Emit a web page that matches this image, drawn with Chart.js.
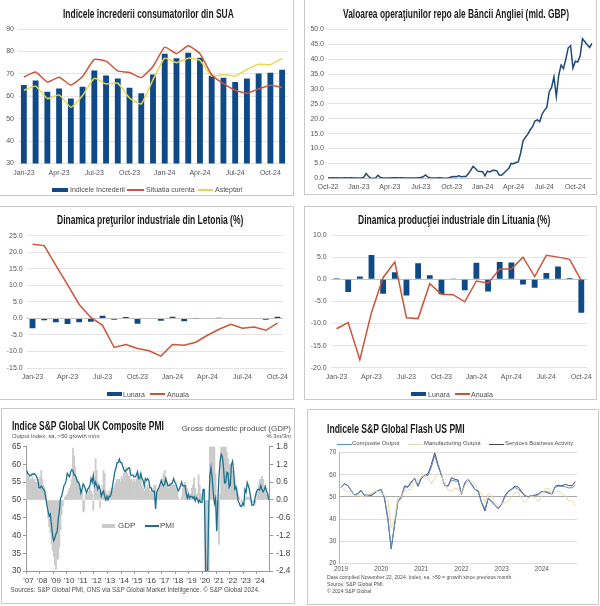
<!DOCTYPE html>
<html lang="ro">
<head>
<meta charset="utf-8">
<title>Indicatori</title>
<script src="https://cdn.jsdelivr.net/npm/chart.js@4"></script>
<style>
  html, body { margin: 0; padding: 0; background: #fff; }
  #page { position: relative; width: 600px; height: 606px; overflow: hidden; font-family: "Liberation Sans", Arial, sans-serif; }
  .panel { position: absolute; box-sizing: border-box; border: 1px solid #c9c9c9; background: #fff; }
  canvas { position: absolute; display: block; }
  .txt { position: absolute; white-space: nowrap; line-height: 1; color: #4d4d4d; }
  .title { font-weight: bold; color: #1a1a1a; transform-origin: 0 0; }
  .swatch { position: absolute; }
</style>
</head>
<body>
<div id="page"></div>
<script>
// ===== Data =====
const months = ["Jan-23","Feb-23","Mar-23","Apr-23","May-23","Jun-23","Jul-23","Aug-23","Sep-23","Oct-23","Nov-23","Dec-23",
  "Jan-24","Feb-24","Mar-24","Apr-24","May-24","Jun-24","Jul-24","Aug-24","Sep-24","Oct-24","Nov-24"];

// SUA - increderea consumatorilor
const increderea = [65,67,62,63.5,59,64.2,71.5,69.3,67.9,63.8,61.3,69.7,79,76.9,79.4,77.2,69.1,68.2,66.4,67.9,70.1,70.5,71.8];
const situatia = [68.6,70.8,66.3,68.5,65,68.8,76.4,75.7,71.3,70.6,68.3,73.3,81.9,79,82.5,79,69.6,65.6,62.7,61.3,63.3,64.9,63.9];
const asteptari = [62.7,64.5,59,60.6,55.1,60.3,68,65.5,65.8,59.2,56.6,67.4,77,75,77,76,69,69.6,69,72,74.3,74.1,76.9];

// Banca Angliei - repo (saptamanal)
const repoTicks = ["Oct-22","Jan-23","Apr-23","Jul-23","Oct-23","Jan-24","Apr-24","Jul-24","Oct-24"];
const repo = [0.2,0.1,0.2,0.1,0.2,0.1,0.1,0.2,0.1,0.2,0.2,0.1,0.1,0.1,0.1,0.3,1.6,0.7,0,0,0.1,1,0.3,0.1,0.1,0.1,0.1,0.2,0.2,0.2,0.1,0.2,0.1,0.1,0.1,0.1,0.1,0.1,0.2,0.3,0.5,1.1,0.4,0.2,0.1,0.1,0.1,0.2,0.1,0,0,0.2,0.5,0.6,0.5,0.8,0.5,0.6,0.6,1.5,2.7,4,3.3,2.4,2.3,2.2,0.8,2.4,2.1,2.6,2.7,2.5,1.1,1,1.8,2.6,3.3,5,4.9,5.3,5.5,8.5,12.5,13.8,14.8,16.2,17.3,19.2,19.6,19,21.5,22.8,23.8,29,30.5,34,27.4,34.5,38,36.8,40,43.8,44.5,37,39.3,39,41,46.8,45.8,44.8,43.9,45.3];

// Letonia - preturi industriale
const letLunara = [-3,-0.6,-1.2,-1.7,-1.2,-1,0.8,-0.4,0.4,-1.6,0,-0.7,0.5,-0.9,-0.1,0.1,0.2,0.1,-0.2,0,-0.4,0.5];
const letAnuala = [22.4,22,16,10.2,4.2,0.3,-2.1,-8.8,-7.9,-9.1,-9.8,-11.4,-7.9,-8.1,-7.2,-5.1,-3.3,-1.8,-3,-2.6,-3.6,-1.4];

// Lituania - productie industriala
const litLunara = [0.2,-2.9,0.6,5.5,-3.3,1.6,-3.7,3.6,0.9,-3.4,0.05,-2.5,3.7,-2.8,3.9,3.8,-1.2,-1.9,1.4,2.9,0.3,-7.6];
const litAnuala = [-11.2,-9.8,-18.2,-7.5,0.4,3.9,-8.7,-8.9,-1,-3.4,-3.5,-5.1,-0.4,-0.9,2.3,2.3,5,0.6,5.4,5,4.5,-0.3];

// UK composite PMI, GDP (lunar 2007 - 2024)
const ukYears = ["'07","'08","'09","'10","'11","'12","'13","'14","'15","'16","'17","'18","'19","'20","'21","'22","'23","'24"];
const ukPmi = [58.3,57.5,57.2,56.8,57,57.3,57.2,57.4,57,56.5,55.5,53.5,
  53.4,53.9,53.5,53,52.5,50.5,48.5,46.8,45.5,46,43,40,
  38.5,39.3,40.5,41,44.5,47,50.5,51,52.5,54,54.5,55.5,
  57.5,57,56.5,58,58.5,58.2,57,57,56,55,55,54,
  52,53,54.5,54,53,52,53,53.5,54,56,55,57,
  54,55,54,53,54,53,51,52,52.5,51,50,51,
  50,51,51,52,54,56,58,59,60.5,60.5,61.5,60.5,
  60.5,59.5,58.5,58,58.5,58.5,59,59,57,57,57,56.5,
  56.5,57,58,56,56,57.5,56,55.5,54,56,55.5,56,
  55.5,53.5,53.5,52.5,52.5,52.5,47.5,52,53,53.5,54.5,55.5,
  54.5,54,54.5,56,55,54,54,54.5,54.5,55,56,55,
  54.5,53.5,52.5,53,54,55,54,54,54,52,50.5,51.5,
  50.5,51,51,50.5,50.9,49.7,50.7,50.2,49.3,50,49.3,49.3,
  53,53,36,13.8,30,47.7,57,59.1,56.1,52.1,49,50.4,
  41.2,49.6,56.4,60.9,62.9,62.2,59.2,54.8,54.9,57.8,57.6,53.6,
  54.2,59.9,60.9,58.2,53.1,53.7,52.1,49.6,49.1,48.2,48.2,49,
  48.5,53,52.2,54.9,54,52.8,50.8,48.6,48.5,48.7,50.7,52.1,
  52.9,53,52.8,54.1,53,52.3,52.8,53.8,52.6,51.8,50];
const ukGdp = [1,0.9,0.8,0.7,0.7,0.8,0.7,0.7,0.6,0.6,0.7,0.6,
  0.8,1,0.7,0.5,0.4,0.2,0,-0.6,-0.9,-1.1,-1.5,-1.7,
  -1.9,-2.2,-2.35,-2,-2,-1.6,-1,-0.5,-0.2,0,0.1,0.15,
  0.2,0.3,0.4,0.5,0.7,1.75,1.5,1.1,0.8,0.7,0.5,0.4,
  0.3,0.3,-0.4,-0.35,0.15,0.2,0.2,0.3,0.4,0.3,0.2,-0.35,
  0.6,1.4,1,0.6,0.3,-0.25,0.3,0.5,1,0.9,0.3,0.2,
  0.2,0.3,0.3,0.4,0.3,0.4,0.5,0.6,0.7,0.7,0.7,0.6,
  0.8,0.7,0.9,1,1.1,0.9,0.8,0.8,0.7,0.7,0.6,0.7,
  0.6,0.7,0.9,0.9,0.8,0.7,0.5,0.4,0.3,0.5,0.4,0.5,
  0.4,0.3,0.2,0.3,0.4,0.5,0.5,0.2,0.2,0.4,0.5,0.6,
  0.7,0.9,1,0.8,0.6,0.4,0.4,0.5,0.5,0.5,0.5,0.5,
  0.4,0.3,0.1,0,0,0.1,0.4,0.5,0.6,0.5,0.4,0.3,
  0.2,0.2,0.4,0.5,0.75,0.4,0.2,0.2,0.85,0.5,0.2,0.1,
  0.1,0.2,-3,-6,-6,-3,2,5,5,3,2,0.9,
  -0.3,-1,-1.5,0.2,3,5,6,4,2,1.6,1.4,1.2,
  1.2,1.1,1,0.8,0.7,0.5,0.4,0.2,0.1,0,-0.1,-0.1,
  0,0.1,0.1,0.1,0.1,0.1,0,-0.1,-0.1,-0.1,-0.1,0,
  0.3,0.5,0.7,0.7,0.8,0.7,0.5,0.3,0.2,0.2,0.1];

// US flash PMI (lunar 2019 - 2024)
const usYears = ["2019","2020","2021","2022","2023","2024"];
const usComposite = [54.4,55.8,55.1,53,50.9,51.5,52.6,50.7,51,50.9,52,52.7,
  53.3,49.6,40.9,27,37,47.9,50.3,54.6,54.3,56.3,58.6,55.3,
  59,59.5,59.7,63.5,68.7,63.7,59.9,55.4,55,57.6,57.2,57,
  51.1,55.9,57.7,56,53.6,52.3,47.7,44.6,49.5,48.2,46.4,45,
  46.8,50.1,52.3,53.4,54.3,53.2,52,50.2,50.2,50.7,50.7,50.9,
  52.5,52.5,52.1,51.3,54.5,54.8,54.8,54.6,54.1,54.1,55.3];
const usManufacturing = [54.9,53,52.4,52.6,50.5,50.6,50.4,49.9,51.1,51.3,52.6,52.4,
  51.9,50.7,48.5,36.1,39.8,49.8,50,53,53.2,53.5,56.5,57,
  59,60,59,55.8,58.5,60.5,59.5,56,53,52.5,54,53.5,
  51.5,55,58,57,56,53,51.5,47.5,51.5,50.5,47.5,46,
  47,47.5,48,50,52,52,49,47.5,49.5,50.5,49.5,48,
  50.5,53.5,54,51,52,53,51.5,50.5,48,48.5,46];
const usServices = [54.2,56,55.3,53,50.9,51.5,53,50.7,50.9,50.6,51.6,52.8,
  53.4,49.4,39.8,26.5,37.5,47.9,49.6,55,54.6,56.9,58.4,54.8,
  58.3,59.8,60.4,64.7,70,64.6,59.9,55.1,54.9,58.7,58,57.6,
  51.2,56.5,58,55.6,53.4,52.7,47.3,43.7,49.3,47.8,46.2,44.7,
  46.8,50.6,52.6,53.6,54.9,54.4,52.3,50.5,50.1,50.6,50.8,51.4,
  52.5,52.3,51.7,51.3,54.8,55.3,55,55.7,55.2,55,57];

// ===== Colours =====
const BLUE = "#0f4a87";
const RED = "#c9553a";
const YELLOW = "#e6d84e";
const NAVY = "#1f4a78";
const GRID = "#e4e4e4";
const TICK = "#555555";
const SANS = "'Liberation Sans', Arial, sans-serif";

// ===== Helpers =====
const page = document.getElementById("page");

function addText(text, x, y, size, opts = {}) {
  const el = document.createElement("div");
  el.className = "txt";
  el.textContent = text;
  el.style.top = y + "px";
  el.style.fontSize = size + "px";
  if (opts.align === "right") el.style.right = (600 - x) + "px";
  else el.style.left = x + "px";
  page.appendChild(el);
  return el;
}

// titlurile sunt inguste in original, deci le comprim la latimea citita
function addTitle(text, x, y, targetWidth) {
  const el = addText(text, x, y, 12);
  el.classList.add("title");
  el.style.transform = `scaleX(${targetWidth / el.offsetWidth})`;
}

function addKey(color, x, width, y, height) {
  const el = document.createElement("div");
  el.className = "swatch";
  el.style.cssText = `left:${x}px;top:${y}px;width:${width}px;height:${height}px;background:${color}`;
  page.appendChild(el);
}

// panel = rama exterioara, plot = zona graficului (coordonate de pagina)
function addChart(panel, plot, config) {
  const box = document.createElement("div");
  box.className = "panel";
  box.style.cssText = `left:${panel.x}px;top:${panel.y}px;width:${panel.w}px;height:${panel.h}px`;
  page.appendChild(box);
  const canvas = document.createElement("canvas");
  canvas.width = panel.w;
  canvas.height = panel.h;
  canvas.style.left = panel.x + "px";
  canvas.style.top = panel.y + "px";
  canvas.style.width = panel.w + "px";
  canvas.style.height = panel.h + "px";
  page.appendChild(canvas);

  const roomRight = panel.x + panel.w - plot.right;
  const scales = config.options.scales;
  scales.x.afterFit = (s) => { s.height = panel.y + panel.h - plot.bottom; };
  scales.y.afterFit = (s) => { s.width = plot.left - panel.x; };
  if (scales.y2) scales.y2.afterFit = (s) => { s.width = roomRight; };

  config.options = Object.assign({
    responsive: false,
    animation: false,
    layout: { padding: { left: 0, top: plot.top - panel.y, right: scales.y2 ? 0 : roomRight, bottom: 0 } },
    plugins: { legend: { display: false }, tooltip: { enabled: false } },
    elements: { point: { radius: 0 } },
  }, config.options);
  return new Chart(canvas.getContext("2d"), config);
}

function xAxis(callback, size, extra = {}) {
  return Object.assign({
    offset: true,
    grid: { display: false, drawTicks: false },
    border: { display: false },
    ticks: { autoSkip: false, maxRotation: 0, minRotation: 0, padding: 5, color: TICK, font: { family: SANS, size }, callback },
  }, extra);
}

function yAxis(min, max, step, size, digits, zero) {
  return {
    min, max,
    ticks: { stepSize: step, color: TICK, padding: 4, font: { family: SANS, size }, callback: (v) => v.toFixed(digits) },
    grid: { color: (c) => (c.tick.value === zero ? "#c4c4c4" : GRID), lineWidth: 1, drawTicks: false },
    border: { display: false },
  };
}

const everyThird = (labels) => (v, i) => (i % 3 === 0 ? labels[i] : "");

function barLine(name1, vals1, name2, vals2, tension) {
  return [
    { type: "bar", label: name1, data: vals1, backgroundColor: BLUE, barPercentage: 0.5, categoryPercentage: 1, order: 3 },
    { type: "line", label: name2, data: vals2, borderColor: RED, borderWidth: 1.5, tension, order: 1 },
  ];
}

// ===== 1. Increderea consumatorilor =====
{
  const datasets = barLine("Indicele încrederii", increderea, "Situatia curenta", situatia, 0.15);
  datasets.push({ type: "line", label: "Asteptari", data: asteptari, borderColor: YELLOW, borderWidth: 1.5, tension: 0.15, order: 2 });
  addChart({ x: -1, y: -2, w: 295, h: 198 }, { left: 18, top: 29, right: 288, bottom: 163.5 }, {
    data: { labels: months, datasets },
    options: { scales: { x: xAxis(everyThird(months), 7), y: yAxis(30, 90, 10, 7, 0, null) } },
  });
  addTitle("Indicele încrederii consumatorilor din SUA", 63, 7.5, 171);
  addKey(BLUE, 52, 16, 188, 4);
  addText("Indicele încrederii", 70, 186, 7);
  addKey(RED, 127, 17, 189, 2);
  addText("Situatia curenta", 146, 186, 7);
  addKey(YELLOW, 198, 15, 189, 2);
  addText("Asteptari", 215, 186, 7);
}

// ===== 2. Repo Banca Angliei =====
{
  const chartLabels = repo.map((_, i) => i);
  addChart({ x: 304, y: -2, w: 293, h: 197 }, { left: 328, top: 29.3, right: 592.7, bottom: 178.3 }, {
    data: { labels: chartLabels, datasets: [
      { type: "line", data: repo, borderColor: NAVY, borderWidth: 1.5 },
    ] },
    options: { scales: {
      x: xAxis((v, i) => (i % 13 === 0 ? repoTicks[i / 13] : ""), 7, { offset: false }),
      y: yAxis(0, 50, 5, 7, 1, 0),
    } },
  });
  addTitle("Valoarea operaţiunilor repo ale Băncii Angliei (mld. GBP)", 342.5, 8, 226);
}

// ===== 3. Letonia =====
{
  addChart({ x: -1, y: 206, w: 295, h: 194 }, { left: 26.7, top: 235.7, right: 283.3, bottom: 368 }, {
    data: { labels: months.slice(0, 22), datasets: barLine("Lunara", letLunara, "Anuala", letAnuala, 0) },
    options: { scales: { x: xAxis(everyThird(months), 7), y: yAxis(-15, 25, 5, 7, 1, 0) } },
  });
  addTitle("Dinamica preţurilor industriale din Letonia (%)", 57, 213.5, 186);
  addKey(BLUE, 107, 15, 392, 4);
  addText("Lunara", 123, 390.5, 7);
  addKey(RED, 150, 15, 393, 2);
  addText("Anuala", 167, 390.5, 7);
}

// ===== 4. Lituania =====
{
  addChart({ x: 304, y: 206, w: 293, h: 194 }, { left: 330.7, top: 235, right: 588, bottom: 367.7 }, {
    data: { labels: months.slice(0, 22), datasets: barLine("Lunara", litLunara, "Anuala", litAnuala, 0) },
    options: { scales: { x: xAxis(everyThird(months), 7), y: yAxis(-20, 10, 5, 7, 1, 0) } },
  });
  addTitle("Dinamica producţiei industriale din Lituania (%)", 358, 213.5, 192);
  addKey(BLUE, 411, 15, 392, 4);
  addText("Lunara", 428, 390.5, 7);
  addKey(RED, 455, 15, 393, 2);
  addText("Anuala", 471, 390.5, 7);
}

// ===== 5. UK composite PMI =====
{
  const axisColor = "#9a9a9a";
  addChart({ x: 1, y: 408, w: 294, h: 196 }, { left: 26, top: 446.7, right: 269.3, bottom: 571 }, {
    data: { labels: ukPmi.map((_, i) => i), datasets: [
      { type: "line", label: "PMI", data: ukPmi, yAxisID: "y", borderColor: "#1d6f8c", borderWidth: 1.3, order: 1 },
      { type: "bar", label: "GDP", data: ukGdp, yAxisID: "y2", backgroundColor: "#cbcbcb", barPercentage: 1, categoryPercentage: 1, order: 2 },
    ] },
    options: { scales: {
      x: {
        offset: true,
        grid: { drawOnChartArea: false, tickLength: 3, tickColor: (c) => (c.index % 12 === 0 ? axisColor : "transparent") },
        border: { color: axisColor },
        ticks: { autoSkip: false, maxRotation: 0, minRotation: 0, padding: 2, labelOffset: 2, color: "#404040", font: { family: SANS, size: 8 },
          callback: (v, i) => (i % 12 === 0 ? ukYears[i / 12] : "") },
      },
      y: {
        min: 30, max: 65,
        ticks: { stepSize: 5, color: "#404040", padding: 2, font: { family: SANS, size: 8.2 } },
        grid: { drawOnChartArea: false, tickLength: 3, tickColor: axisColor },
        border: { color: axisColor },
      },
      y2: {
        position: "right", min: -2.4, max: 1.8,
        ticks: { stepSize: 0.6, color: "#404040", padding: 3, font: { family: SANS, size: 8.2 }, callback: (v) => v.toFixed(1) },
        grid: { drawOnChartArea: false, tickLength: 4, tickColor: axisColor },
        border: { color: axisColor },
      },
    } },
  });
  addTitle("Indice S&P Global UK Composite PMI", 12, 420, 152);
  addText("Output Index, sa, >50 growth m/m", 12, 434, 5.8);
  addText("Gross domestic product (GDP)", 291, 425, 8, { align: "right" });
  addText("% 3m/3m", 291, 434, 5.8, { align: "right" });
  addKey("#cbcbcb", 102, 13, 524, 4);
  addText("GDP", 118, 522, 8);
  addKey("#1d6f8c", 145, 14, 525, 2);
  addText("PMI", 160, 522, 8);
  addText("Sources: S&P Global PMI, ONS via S&P Global Market Intelligence. © S&P Global 2024.", 10.5, 587, 6.35);
}

// ===== 6. US flash PMI =====
{
  addChart({ x: 307, y: 409, w: 292, h: 196 }, { left: 339.3, top: 452.7, right: 577, bottom: 563.3 }, {
    data: { labels: usComposite.map((_, i) => i), datasets: [
      { type: "line", label: "Manufacturing Output", data: usManufacturing, borderColor: "#e8d7a8", borderWidth: 1 },
      { type: "line", label: "Composite Output", data: usComposite, borderColor: "#5f8fbd", borderWidth: 1 },
      { type: "line", label: "Services Business Activity", data: usServices, borderColor: "#4c3f73", borderWidth: 1 },
    ] },
    options: { scales: {
      x: {
        offset: true,
        grid: { display: false, drawTicks: false },
        border: { display: false },
        ticks: { autoSkip: false, maxRotation: 0, minRotation: 0, padding: 2.5, color: TICK, font: { family: SANS, size: 6.3 },
          callback: (v, i) => (i % 12 === 0 ? usYears[i / 12] : "") },
      },
      y: {
        min: 20, max: 70,
        ticks: { stepSize: 10, color: TICK, padding: 3, font: { family: SANS, size: 6.3 } },
        grid: { color: (c) => (c.tick.value === 50 ? "#a8a8a8" : "#dcdcdc"), drawTicks: false },
        border: { color: "#b5b5b5" },
      },
    } },
  });
  addTitle("Indicele S&P Global Flash US PMI", 327, 423, 138);
  addKey("#5f8fbd", 337, 15, 444, 1);
  addText("Composite Output", 352, 441, 5.9);
  addKey("#e8d7a8", 408, 15, 444, 1);
  addText("Manufacturing Output", 424, 441, 5.9);
  addKey("#4c3f73", 489, 15, 444, 1);
  addText("Services Business Activity", 505, 441, 5.9);
  addText("Data compiled November 22, 2024. Index, sa, >50 = growth since previous month.", 327, 575, 5.1);
  addText("Source: S&P Global PMI.", 327, 582, 5.1);
  addText("© 2024 S&P Global", 327, 588.5, 5.1);
}
</script>
</body>
</html>
